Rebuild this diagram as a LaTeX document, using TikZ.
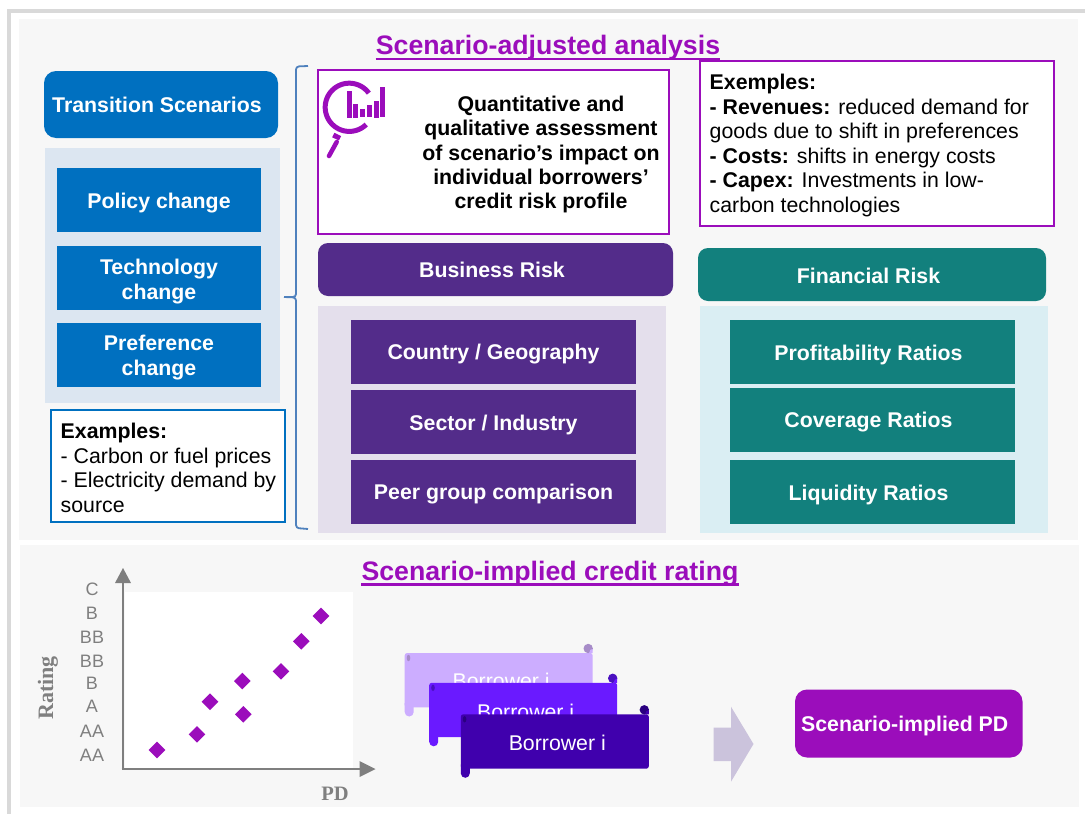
\documentclass[tikz,border=0pt]{standalone}
\usepackage{fontspec}
\setmainfont{Liberation Sans}
\newfontfamily\serifbold{Liberation Serif}
\definecolor{cframe}{HTML}{D9D9D9}
\definecolor{cpanel}{HTML}{F7F7F7}
\definecolor{cblue}{HTML}{0070C0}
\definecolor{clblue}{HTML}{DCE6F1}
\definecolor{cbus}{HTML}{532C8A}
\definecolor{clbus}{HTML}{E4DFEC}
\definecolor{cteal}{HTML}{12807D}
\definecolor{clteal}{HTML}{DAEEF3}
\definecolor{cmag}{HTML}{9B0DBB}
\definecolor{cbrace}{HTML}{4F81BD}
\definecolor{cgrey}{HTML}{7F7F7F}
\definecolor{cscrollA}{HTML}{CCADFF}
\definecolor{cscrollAd}{HTML}{A78CC8}
\definecolor{cscrollB}{HTML}{6A1AFF}
\definecolor{cscrollBd}{HTML}{4A10C0}
\definecolor{cscrollC}{HTML}{4000AD}
\definecolor{cscrollCd}{HTML}{2A0080}
\definecolor{carrow}{HTML}{CBC3DC}
\tikzset{
  x=1pt,y=-1pt,
  txt/.style={font=\fontsize{21.3}{24.5}\selectfont,inner sep=0pt,text=black},
  btxt/.style={font=\fontsize{21.3}{25}\selectfont\bfseries,inner sep=0pt,text=white,align=center},
  title/.style={font=\fontsize{26.7}{30}\selectfont\bfseries,inner sep=0pt,text=cmag},
  titlerule/.style={draw=cmag,line width=2.6pt},
  ytick/.style={font=\fontsize{18}{20}\selectfont,inner sep=0pt,text=cgrey},
  axlab/.style={inner sep=0pt,text=cgrey},
  panel/.style={fill=cpanel,draw=none},
  mark diamond/.style={fill=cmag,draw=none},
  axis line/.style={draw=cgrey,line width=2.6pt},
  axis tip/.style={fill=cgrey,draw=none},
  icon/.style={draw=cmag,line width=5pt},
}
\newcommand{\boxat}[8][]{%
  \path[#1] (#3,#4) rectangle (#5,#6);
  \node[btxt,#8] (#2) at ({(#3+#5)/2},{(#4+#6)/2}) {#7};}
\newcommand{\diam}[3]{\path[mark diamond] (#2-8.3,#3) -- (#2,#3-8.3) -- (#2+8.3,#3) -- (#2,#3+8.3) -- cycle;
  \coordinate (#1) at (#2,#3);}
\newcommand{\scrollshape}[7]{% name,x,y(top),fill,dark,text,text dy
  \path[fill=#4,rounded corners=2.5pt] (#2,#3) -- (#2+188,#3) -- (#2+188,#3+54.4) -- (#2+9,#3+54.4) -- (#2,#3+54.4) -- cycle;
  \fill[#4] (#2,#3+50) -- (#2,#3+59) arc[start angle=180,end angle=360,x radius=4.5,y radius=-4.5] -- (#2+9,#3+50) -- cycle;
  \fill[#5] (#2+183.5,#3-4.5) circle[radius=4.7];
  \fill[#4] (#2+184.5,#3) -- (#2+188,#3) -- (#2+188,#3-4.2) -- (#2+185.5,#3-3) -- cycle;
  \fill[#5] (#2+3.8,#3+5) ellipse[x radius=1.8,y radius=3.2];
  \node[font=\fontsize{21.3}{25}\selectfont,text=white,inner sep=0pt] (#1) at (#2+96.5,#3+#7) {#6};}
\begin{document}
\begin{tikzpicture}
\useasboundingbox (0,0) rectangle (1085,814);
\fill[white] (0,0) rectangle (1085,814);
% outer frame
\draw[cframe,line width=3.6pt] (9,814) -- (9,11) -- (1085,11);
% panels
\path[panel] (19,19) rectangle (1078,540);
\path[panel] (20,545) rectangle (1079,806.5);
% titles
\node[title] (t1) at (548,48) {Scenario-adjusted analysis};
\node[title] (t2) at (550,573.5) {Scenario-implied credit rating};
\draw[titlerule] ([yshift=-4pt]t1.base west) -- ([yshift=-4pt]t1.base east);
\draw[titlerule] ([yshift=-4pt]t2.base west) -- ([yshift=-4pt]t2.base east);
% left column
\boxat[fill=cblue,rounded corners=12pt]{ts}{44}{71}{278}{138}{Transition Scenarios}{xshift=-4pt}
\path[fill=clblue] (45,148) rectangle (280,403);
\boxat[fill=cblue]{pol}{57}{168}{261}{232}{Policy change}{yshift=-3pt}
\boxat[fill=cblue]{tec}{57}{246}{261}{310}{Technology\\change}{yshift=-4pt}
\boxat[fill=cblue]{pre}{57}{323}{261}{387}{Preference\\change}{yshift=-2.5pt}
\path[fill=white,draw=cblue,line width=2pt] (51,410) rectangle (285,522);
\node[txt,align=left,anchor=north west] (ex1) at (60.5,423) {\textbf{Examples:}\\- Carbon or fuel prices\\- Electricity demand by\\source};
% brace
\coordinate (bt) at (308,66);
\coordinate (bm) at (284,297);
\coordinate (bb) at (308,529);
\draw[cbrace,line width=1.8pt,rounded corners=3pt] (bt) -- (296,66.5) -- (296,297) -- (bm);
\draw[cbrace,line width=1.8pt,rounded corners=3pt] (bm) -- (296,297.5) -- (296,528) -- (bb);
% assessment box
\path[fill=white,draw=cmag,line width=2.4pt] (318,70) rectangle (669,234);
\node[font=\fontsize{21.3}{24.4}\selectfont\bfseries,inner sep=0pt,align=center] (q) at (541,154.5) {Quantitative and\\qualitative assessment\\of scenario’s impact on\\individual borrowers’\\credit risk profile};
% icon
\draw[icon,domain=45.5:324,samples=80] plot ({349.3+24.1*cos(\x)},{107.3+24.1*sin(\x)});
\foreach \xa/\xb/\ya/\yb in {347/351.7/91/117.7,353.3/358/104/117.7,360/364.7/109/116.7,367/372/105.3/116.7,374/379/101/117.7,380/385/87/116.7}
  \fill[cmag] (\xa,\ya) rectangle (\xb,\yb);
\draw[cmag,line width=5pt] (333.3,135) -- (340,138.3);
\draw[cmag,line width=4.5pt,line cap=round] (336.7,142) -- (329,156);
% examples right
\path[fill=white,draw=cmag,line width=2.4pt] (700,61) rectangle (1054,226);
\node[txt,align=left,anchor=north west] (ex2) at (709.5,74.3) {\textbf{Exemples:}\\\textbf{- Revenues:} reduced demand for\\goods due to shift in preferences\\\textbf{- Costs:} shifts in energy costs\\\textbf{- Capex:} Investments in low-\\carbon technologies};
% business
\boxat[fill=cbus,rounded corners=10pt]{br}{318}{243}{673}{296}{Business Risk}{xshift=-3.5pt}
\path[fill=clbus] (318,306) rectangle (666,533);
\boxat[fill=cbus]{cg}{351}{320}{636}{384}{Country / Geography}{yshift=-2.5pt}
\boxat[fill=cbus]{si}{351}{390}{636}{454}{Sector / Industry}{yshift=-2.5pt}
\boxat[fill=cbus]{pg}{351}{460}{636}{524}{Peer group comparison}{yshift=-2.5pt}
% financial
\boxat[fill=cteal,rounded corners=10pt]{fr}{698}{248}{1046}{301}{Financial Risk}{xshift=-3.5pt,yshift=-1pt}
\path[fill=clteal] (700,306) rectangle (1048,533);
\boxat[fill=cteal]{pr}{730}{320}{1015}{384}{Profitability Ratios}{xshift=-4pt,yshift=-2.5pt}
\boxat[fill=cteal]{cr}{730}{388}{1015}{452}{Coverage Ratios}{xshift=-4pt,yshift=-2.5pt}
\boxat[fill=cteal]{lr}{730}{460}{1015}{524}{Liquidity Ratios}{xshift=-4pt,yshift=-2.5pt}
% chart
\path[fill=white] (125,592) rectangle (353,768);
\coordinate (org) at (123,769);
\coordinate (yend) at (123,580);
\coordinate (xend) at (362,769);
\draw[axis line] (org) -- (yend);
\draw[axis line] ([xshift=-1.3pt]org) -- (xend);
\path[axis tip] (115,583) -- (123,568) -- (131,583) -- cycle;
\path[axis tip] (359.5,761) -- (375.5,769) -- (359.5,777) -- cycle;
\foreach \n/\t/\yy in {a/C/589,b/B/613,c/BB/637,d/BB/661,e/B/683,f/A/706.5,g/AA/731,h/AA/755}
  \node[ytick] (tick\n) at (92,\yy) {\t};
\node[axlab,rotate=90,font=\fontsize{22}{24}\serifbold\bfseries] (rat) at (48,688) {Rating};
\node[axlab,font=\fontsize{20.5}{24}\serifbold\bfseries] (pd) at (335,794) {PD};
\diam{d1}{157}{750}
\diam{d2}{197}{734.3}
\diam{d3}{210}{701.7}
\diam{d4}{242.3}{681}
\diam{d5}{243.3}{714.3}
\diam{d6}{281}{671.3}
\diam{d7}{301.3}{641.3}
\diam{d8}{321}{616}
% scrolls
\scrollshape{s1}{404.7}{653}{cscrollA}{cscrollAd}{Borrower i}{28}
\scrollshape{s2}{429.2}{682.8}{cscrollB}{cscrollBd}{Borrower i}{29.5}
\scrollshape{s3}{460.8}{714.3}{cscrollC}{cscrollCd}{Borrower i}{28.5}
% arrow
\path[fill=carrow] (713.5,727.7) -- (731,727.7) -- (731,706.7) -- (753.5,744) -- (731,781.7) -- (731,761) -- (713.5,761) -- cycle;
\boxat[fill=cmag,rounded corners=12pt]{si2}{795}{689.5}{1022.5}{757.5}{Scenario-implied PD}{xshift=-4pt,yshift=-2.5pt}
\end{tikzpicture}
\end{document}
